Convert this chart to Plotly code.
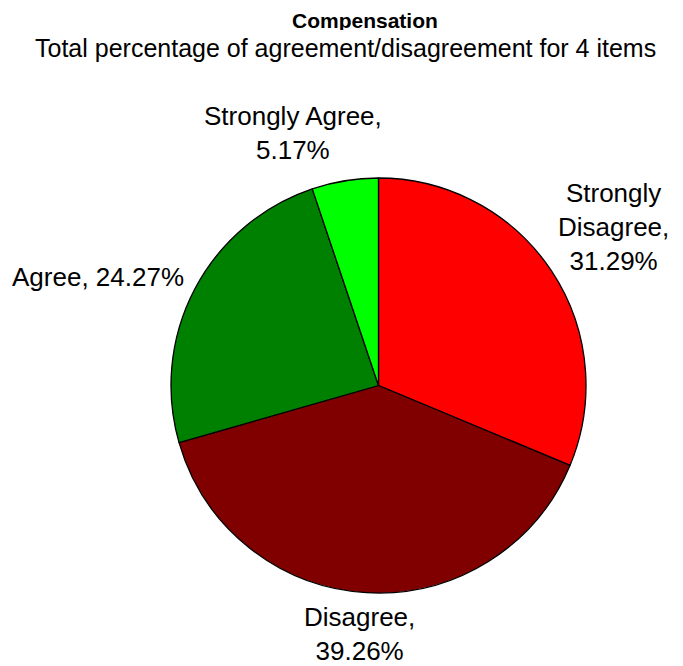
import plotly.graph_objects as go

categories = ["Strongly Disagree", "Disagree", "Agree", "Strongly Agree"]
values = [31.29, 39.26, 24.27, 5.17]
colors = ["#FF0000", "#800000", "#008000", "#00FF00"]
label_text = [
    "Strongly<br>Disagree,<br>31.29%",
    "Disagree,<br>39.26%",
    "Agree, 24.27%",
    "Strongly Agree,<br>5.17%",
]

OFF = 8  # page body margin
W, H = 683 - OFF, 666 - OFF
font = "Liberation Sans, Arial, sans-serif"


def px(x):
    return (x - OFF) / W


def py(y):
    return 1 - (y - OFF) / H


fig = go.Figure(
    go.Pie(
        labels=categories,
        values=values,
        sort=False,
        direction="clockwise",
        rotation=0,
        marker=dict(colors=colors, line=dict(color="black", width=1.3)),
        textinfo="none",
        hoverinfo="label+percent",
        domain=dict(x=[px(170), px(587)], y=[py(593), py(178)]),
        showlegend=False,
    )
)

# label centres (pixels in the picture)
label_pos = [(613, 227), (360, 634), (98, 277), (293, 133)]
annotations = []
for txt, (lx, ly) in zip(label_text, label_pos):
    annotations.append(
        dict(
            text=txt,
            x=px(lx),
            y=py(ly),
            xref="paper",
            yref="paper",
            xanchor="center",
            yanchor="middle",
            showarrow=False,
            align="center",
            font=dict(size=26, color="black", family=font),
        )
    )

annotations.append(
    dict(text="<b>Compensation</b>", x=px(365), y=1, xref="paper", yref="paper",
         xanchor="center", yanchor="top", height=20, showarrow=False,
         font=dict(size=21, color="black", family=font))
)
annotations.append(
    dict(text="Total percentage of agreement/disagreement for 4 items", x=px(345), y=py(48),
         xref="paper", yref="paper", xanchor="center", yanchor="middle", showarrow=False,
         font=dict(size=25, color="black", family=font))
)

fig.update_layout(
    width=W,
    height=H,
    margin=dict(l=0, r=0, t=0, b=0),
    paper_bgcolor="white",
    plot_bgcolor="white",
    font=dict(family=font, color="black"),
    annotations=annotations,
)

fig.write_html("out.html")
